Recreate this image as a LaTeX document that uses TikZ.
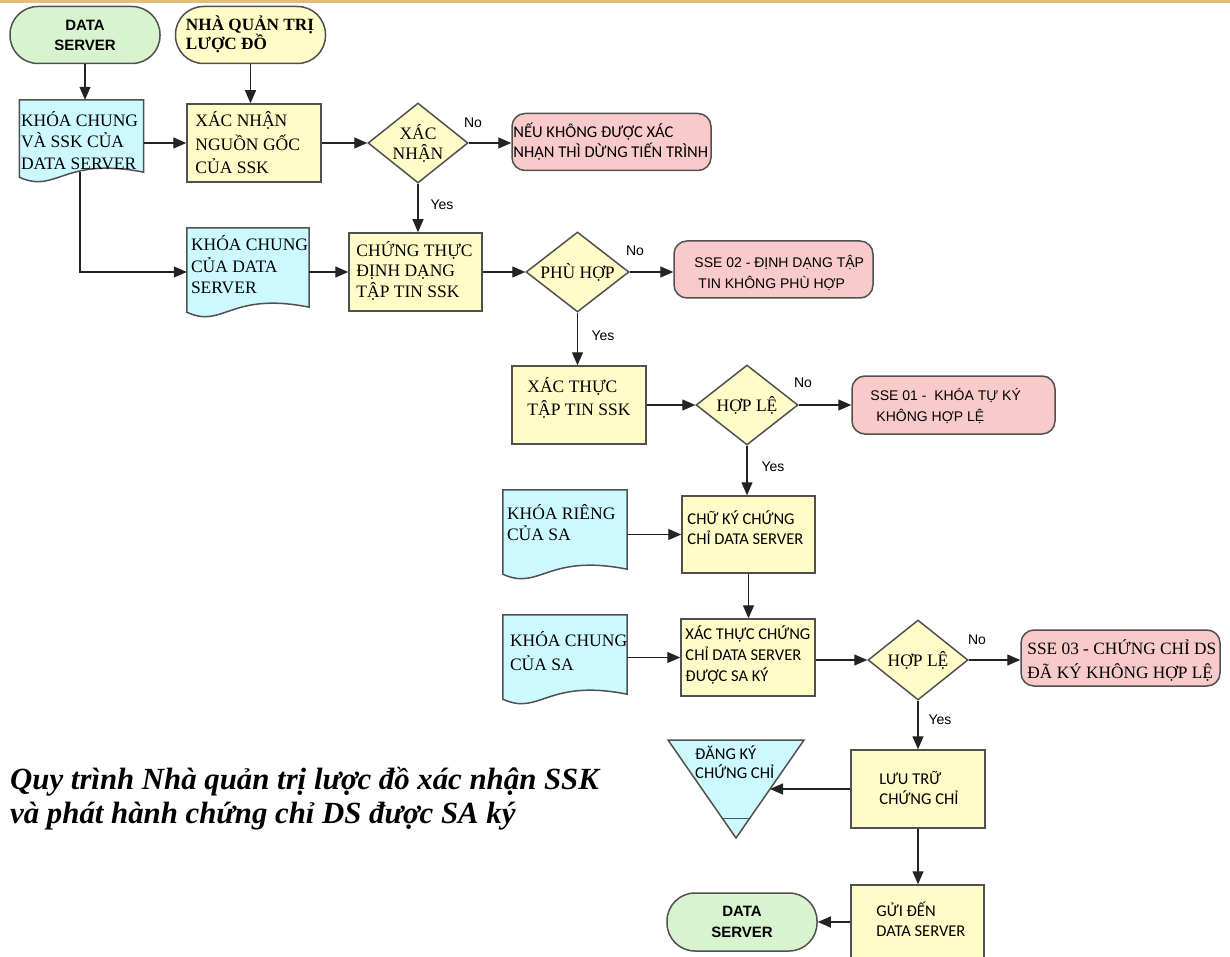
\documentclass[tikz,border=0pt]{standalone}
\usepackage{fontspec}
\setmainfont{Liberation Serif}
\newfontfamily\arialf{Liberation Sans}
\newfontfamily\calf{Carlito}
\usetikzlibrary{shapes.geometric,arrows.meta,calc}

\definecolor{edgecol}{RGB}{80,80,80}
\definecolor{linecol}{RGB}{35,35,35}
\definecolor{procfill}{RGB}{255,252,200}
\definecolor{termgreen}{RGB}{216,244,206}
\definecolor{docfill}{RGB}{204,249,255}
\definecolor{errfill}{RGB}{249,202,202}
\definecolor{topband}{RGB}{226,190,120}

\newcommand\sertext{\fontsize{17.5}{21.5}\selectfont}
\newcommand\caltext{\calf\fontsize{16.5}{20}\selectfont}
\newcommand\aritext{\arialf\fontsize{14}{21}\selectfont}

% document symbol: frame node with a wavy lower edge
\newcommand\docwave[1]{%
  \path[edge, fill=docfill] (#1.north west) -- (#1.north east) -- (#1.south east)
    .. controls ($(#1.south west)!0.35!(#1.south east)+(0,-16)$)
       and ($(#1.south west)!0.30!(#1.south east)+(0,22)$)
    .. ($(#1.south west)+(0,5)$) -- cycle;}

\tikzset{
  edge/.style={draw=edgecol, line width=1.5pt},
  proc/.style={edge, fill=procfill, minimum width=134pt, minimum height=78pt, inner sep=0pt},
  term/.style={edge, rounded corners=28pt, minimum width=150pt, minimum height=57pt, inner sep=0pt},
  dec/.style={edge, fill=procfill, diamond, aspect=1.25, minimum width=101pt,
              minimum height=80pt, inner sep=0pt, font=\sertext, align=center},
  errbox/.style={edge, fill=errfill, rounded corners=13pt, minimum width=199pt,
                 minimum height=57pt, inner sep=0pt},
  docframe/.style={minimum width=124pt, minimum height=79pt, inner sep=0pt},
  ser/.style={anchor=west, inner sep=0pt, align=left, font=\sertext},
  cal/.style={anchor=west, inner sep=0pt, align=left, font=\caltext},
  ari/.style={anchor=west, inner sep=0pt, align=left, font=\aritext},
  flow/.style={draw=linecol, line width=1.3pt, -{Triangle[length=13pt,width=11pt]}},
  yn/.style={inner sep=0pt, font=\arialf\fontsize{14}{16}\selectfont},
}

\begin{document}
\begin{tikzpicture}[x=1pt,y=-1pt]
\clip (0,0) rectangle (1230,957);
\useasboundingbox (0,0) rectangle (1230,957);
\fill[white] (0,0) rectangle (1230,957);
\fill[topband] (0,0) rectangle (1230,3);

% ---- start terminals
\node[term, fill=termgreen, font=\arialf\bfseries\fontsize{15}{20}\selectfont, align=center]
  (ds1) at (85,35) {DATA\\SERVER};
\node[term, fill=procfill] (adm) at (250.5,35) {};
\node[anchor=west, inner sep=0pt, align=left, font=\bfseries\fontsize{17.2}{19}\selectfont]
  (adm-t) at ([shift={(11,-0.5)}]adm.west) {NHÀ QUẢN TRỊ\\LƯỢC ĐỒ};

% ---- row 1
\node[docframe, minimum height=72pt] (doc1) at (81.5,136) {};
\docwave{doc1}
\node[ser] (doc1-t) at ([shift={(1.5,4.5)}]doc1.west) {KHÓA CHUNG\\VÀ SSK CỦA\\DATA SERVER};

\node[proc] (box1) at (254,143) {};
\node[ser, font=\fontsize{17.5}{23.5}\selectfont] (box1-t) at ([xshift=9pt]box1.west) {XÁC NHẬN\\NGUỒN GỐC\\CỦA SSK};

\node[dec, minimum width=100pt] (dia1) at (418,143) {XÁC\\[-1.5pt]NHẬN};

\node[errbox] (err1) at (611.5,142) {};
\node[cal] (err1-t) at ([shift={(2,-0.5)}]err1.west) {NẾU KHÔNG ĐƯỢC XÁC\\NHẬN THÌ DỪNG TIẾN TRÌNH};

% ---- row 2
\node[docframe, minimum width=122pt] (doc2) at (248,267.5) {};
\docwave{doc2}
\node[ser] (doc2-t) at ([shift={(4,-2.5)}]doc2.west) {KHÓA CHUNG\\CỦA DATA\\SERVER};

\node[proc, minimum width=133pt] (box2) at (415.5,272) {};
\node[ser, font=\fontsize{17.5}{20.5}\selectfont] (box2-t) at ([shift={(8,-1.5)}]box2.west) {CHỨNG THỰC\\ĐỊNH DẠNG\\TẬP TIN SSK};

\node[dec, minimum width=103pt] (dia2) at (577.5,272) {PHÙ HỢP};

\node[errbox] (err2) at (773.5,269.5) {};
\node[ari] (err2-t) at ([shift={(21,3)}]err2.west) {SSE 02 - ĐỊNH DẠNG TẬP\\\hspace*{4pt}TIN KHÔNG PHÙ HỢP};

% ---- row 3
\node[proc] (box3) at (579,405) {};
\node[ser, font=\fontsize{17.5}{23}\selectfont] (box3-t) at ([shift={(16,-7)}]box3.west) {XÁC THỰC\\TẬP TIN SSK};

\node[dec, minimum width=102pt] (dia3) at (747,405) {HỢP LỆ};

\node[errbox, minimum width=203pt, minimum height=58pt] (err3) at (953.5,405) {};
\node[ari] (err3-t) at ([shift={(19,0.5)}]err3.west) {SSE 01 -\ \ KHÓA TỰ KÝ\\\hspace*{6pt}KHÔNG HỢP LỆ};

% ---- row 4
\node[docframe] (doc3) at (565,529.5) {};
\docwave{doc3}
\node[ser] (doc3-t) at ([shift={(4,-7)}]doc3.west) {KHÓA RIÊNG\\CỦA SA};

\node[proc, minimum width=133pt, minimum height=77pt] (box4) at (748.5,534.5) {};
\node[cal] (box4-t) at ([shift={(6,-6.5)}]box4.west) {CHỮ KÝ CHỨNG\\CHỈ DATA SERVER};

% ---- row 5
\node[docframe] (doc4) at (565,654.5) {};
\docwave{doc4}
\node[ser, font=\fontsize{17.5}{24}\selectfont] (doc4-t) at ([shift={(7,-3.5)}]doc4.west) {KHÓA CHUNG\\CỦA SA};

\node[proc, minimum height=77pt] (box5) at (748,657.5) {};
\node[cal, font=\calf\fontsize{16.5}{21}\selectfont] (box5-t) at ([shift={(5,-2.5)}]box5.west) {XÁC THỰC CHỨNG\\CHỈ DATA SERVER\\ĐƯỢC SA KÝ};

\node[dec, minimum width=100pt] (dia4) at (918,660) {HỢP LỆ};

\node[errbox, minimum height=56pt] (err4) at (1120.5,658) {};
\node[ser, font=\fontsize{17.3}{24}\selectfont] (err4-t) at ([shift={(7,3)}]err4.west) {SSE 03 - CHỨNG CHỈ DS\\ĐÃ KÝ KHÔNG HỢP LỆ};

% ---- storage and delivery
\node[proc] (box6) at (918,789) {};
\node[cal] (box6-t) at ([shift={(29,-1.5)}]box6.west) {LƯU TRỮ\\CHỨNG CHỈ};

\coordinate (tri-a) at (668,740);
\coordinate (tri-b) at (804,740);
\coordinate (tri-c) at (736,838);
\draw[edge, fill=docfill] (tri-a) -- (tri-b) -- (tri-c) -- cycle;
\draw[edge] ($(tri-a)!0.8!(tri-c)$) -- ($(tri-b)!0.8!(tri-c)$);
\coordinate (tri-in) at ($(tri-b)!0.5!(tri-c)$);
\node[cal, font=\calf\fontsize{16.5}{19}\selectfont] (tri-t) at (695,762.5) {ĐĂNG KÝ\\CHỨNG CHỈ};

\node[proc, minimum width=133pt] (box7) at (917.5,924) {};
\node[cal] (box7-t) at ([shift={(26,-5)}]box7.west) {GỬI ĐẾN\\DATA SERVER};

\node[term, fill=termgreen, minimum height=58pt, font=\arialf\bfseries\fontsize{15}{21}\selectfont, align=center]
  (ds2) at (742,922) {DATA\\SERVER};

% ---- caption
\node[anchor=north west, inner sep=0pt, align=left, font=\bfseries\itshape\fontsize{30.8}{34}\selectfont]
  (title) at (10,767) {Quy trình Nhà quản trị lược đồ xác nhận SSK\\và phát hành chứng chỉ DS được SA ký};

% ---- connectors
\draw[flow] (ds1.south) -- (ds1.south |- doc1.north);
\draw[flow] (adm.south) -- (adm.south |- box1.north);
\draw[flow] (box1.west -| doc1.east) -- (box1.west);
\draw[flow] (box1.east) -- (dia1.west);
\draw[flow] (dia1.east) -- (dia1.east -| err1.west);
\draw[flow] (dia1.south) -- (dia1.south |- box2.north);
\draw[flow] ([xshift=-1.5pt]doc1.south) |- (box2.west -| doc2.west);
\draw[flow] (box2.west -| doc2.east) -- (box2.west);
\draw[flow] (box2.east) -- (dia2.west);
\draw[flow] (dia2.east) -- (dia2.east -| err2.west);
\draw[flow] (dia2.south) -- (dia2.south |- box3.north);
\draw[flow] (box3.east) -- (dia3.west);
\draw[flow] (dia3.east) -- (dia3.east -| err3.west);
\draw[flow] (dia3.south) -- (dia3.south |- box4.north);
\draw[flow] (box4.west -| doc3.east) -- (box4.west);
\draw[flow] (box4.south) -- (box4.south |- box5.north);
\draw[flow] (box5.west -| doc4.east) -- (box5.west);
\draw[flow] (dia4.west -| box5.east) -- (dia4.west);
\draw[flow] (dia4.east) -- (dia4.east -| err4.west);
\draw[flow] (dia4.south) -- (dia4.south |- box6.north);
\draw[flow] (box6.west) -- (tri-in);
\draw[flow] (box6.south) -- (box6.south |- box7.north);
\draw[flow] (ds2.east -| box7.west) -- (ds2.east);

% ---- branch labels
\node[yn] (no1) at (473,123) {No};
\node[yn] (yes1) at (442,205) {Yes};
\node[yn] (no2) at (635,251) {No};
\node[yn] (yes2) at (603,336) {Yes};
\node[yn] (no3) at (803,383) {No};
\node[yn] (yes3) at (773,467) {Yes};
\node[yn] (no4) at (977,640) {No};
\node[yn] (yes4) at (940,720) {Yes};
\end{tikzpicture}
\end{document}
